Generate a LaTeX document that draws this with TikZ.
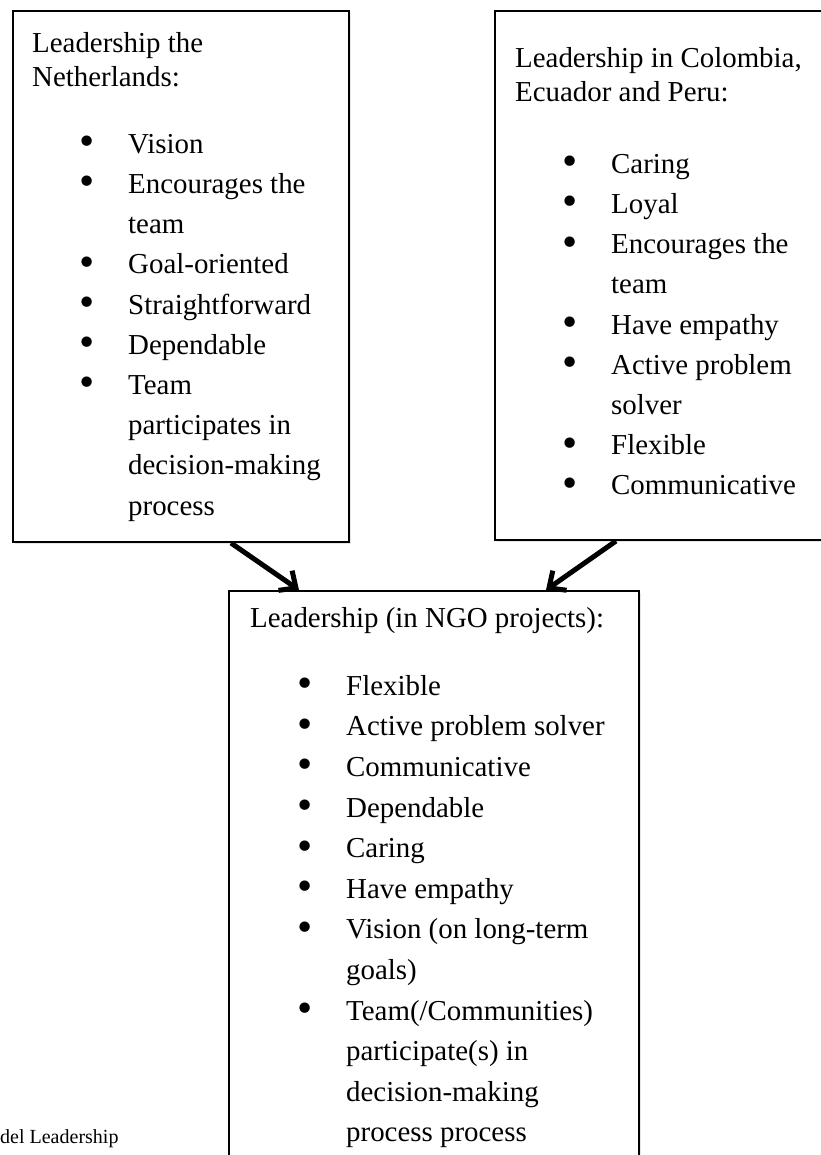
\documentclass[tikz,border=0pt]{standalone}
\usepackage{fontspec}
\setmainfont{Liberation Serif}
\usetikzlibrary{arrows.meta,shadows}
\newcommand\bdot{\raisebox{-2.5pt}{\scalebox{1.5}{•}}}
\newcommand\bitem[1]{\hspace*{47pt}\makebox[49pt][l]{\bdot}#1}
\newcommand\bcont[1]{\hspace*{96pt}#1}
\begin{document}
\begin{tikzpicture}[x=1pt, y=-1pt,
  box/.style={draw, line width=2pt, fill=white, inner sep=0pt, anchor=north west,
    drop shadow={shadow xshift=2pt, shadow yshift=-2pt, opacity=.2}},
  list/.style={align=left, inner sep=0pt, anchor=north west,
    font=\fontsize{28.9}{40.2}\selectfont},
  link/.style={line width=5pt, -{Straight Barb[length=13pt, width=24pt]}}]
\useasboundingbox (0,0) rectangle (820,1155);
% the three boxes
\node[box, minimum width=336pt, minimum height=531pt] (n1) at (12,10) {};
\node[box, minimum width=340pt, minimum height=529pt] (n2) at (494,10) {};
\node[box, minimum width=410pt, minimum height=600pt] (n3) at (228,590) {};
% their texts
\node[list] (t1) at (32,32) {Leadership the\\[-6.2pt]Netherlands:\\[26.8pt]
  \bitem{Vision}\\ \bitem{Encourages the}\\ \bcont{team}\\
  \bitem{Goal-oriented}\\ \bitem{Straightforward}\\ \bitem{Dependable}\\
  \bitem{Team}\\ \bcont{participates in}\\ \bcont{decision-making}\\ \bcont{process}};
\node[list] (t2) at (515,47) {Leadership in Colombia,\\[-6.2pt]Ecuador and Peru:\\[31.8pt]
  \bitem{Caring}\\ \bitem{Loyal}\\ \bitem{Encourages the}\\ \bcont{team}\\
  \bitem{Have empathy}\\ \bitem{Active problem}\\ \bcont{solver}\\
  \bitem{Flexible}\\ \bitem{Communicative}};
\node[list, font=\fontsize{28.9}{40.6}\selectfont] (t3) at (250,607) {Leadership (in NGO projects):\\[27.4pt]
  \bitem{Flexible}\\ \bitem{Active problem solver}\\ \bitem{Communicative}\\
  \bitem{Dependable}\\ \bitem{Caring}\\ \bitem{Have empathy}\\
  \bitem{Vision (on long-term}\\ \bcont{goals)}\\ \bitem{Team(/Communities)}\\
  \bcont{participate(s) in}\\ \bcont{decision-making}\\ \bcont{process process}};
\node[inner sep=0pt, anchor=base west, font=\fontsize{20}{24}\selectfont] (n4) at (0,1143) {del Leadership};
% arrows into the NGO box
\draw[link] ([xshift=50pt]n1.south) -- ([xshift=-135pt]n3.north);
\draw[link] ([xshift=-49pt]n2.south) -- ([xshift=112pt]n3.north);
\end{tikzpicture}
\end{document}
